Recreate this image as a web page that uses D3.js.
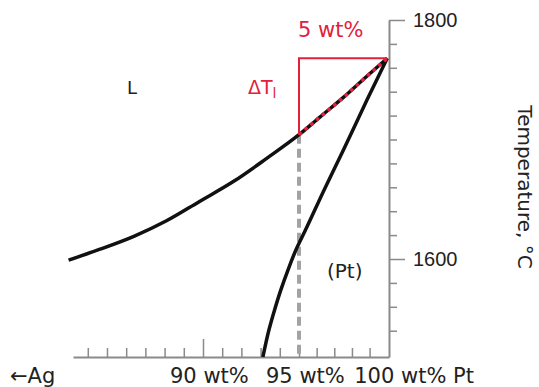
<!DOCTYPE html>
<html>
<head>
<meta charset="utf-8">
<script src="https://cdn.jsdelivr.net/npm/d3@7"></script>
<style>
  body { margin: 0; background: #fff; }
  svg { display: block; font-family: "DejaVu Sans", Verdana, sans-serif; }
</style>
</head>
<body>
<div id="chart"></div>
<script>
// phase diagram, Ag-Pt near the Pt end
const width = 539
const height = 387
const red = "#e2213d"
const axisGrey = "#8a8a8a"

// liquidus and solidus (wt% Pt, deg C)
const liquidusWt = [83.0, 84.6, 86.4, 88.1, 89.8, 91.6, 93.3, 95.0, 96.2, 97.5, 98.7, 100]
const liquidusT = [1599, 1608, 1619, 1632, 1648, 1665, 1684, 1704, 1719, 1735, 1751, 1768]
const solidusWt = [100, 98.85, 97.51, 96.43, 95.36, 94.85, 94.43, 94.05, 93.72, 93.44, 93.12]
const solidusT = [1768, 1733, 1691, 1658, 1624, 1608, 1591, 1574, 1557, 1541, 1518]

// composition of the dashed line and the triangle
const alloyWt = 95
const pureWt = 100
const meltT = 1768
const alloyLiquidusT = 1704

// ticks
const tempMajorTicks = [1600, 1800]
const tempMinorTicks = [1540, 1560, 1580, 1620, 1640, 1660, 1680, 1700, 1720, 1740, 1760, 1780]
const wtMajorTicks = [90]
const wtMinorTicks = [84, 85, 86, 87, 88, 89, 91, 92, 93, 94, 95, 96, 97, 98, 99]
const wtLabels = ["90 wt%", "95 wt%", "100 wt% Pt"]
const wtLabelValues = [90, 95, 100]

const svg = d3.select('#chart')
  .append('svg')
  .attr('width', width)
  .attr('height', height)

// the drawing is not quite linear, so the scale is in two pieces
const x = d3.scaleLinear()
  .domain([83.23, 95, 100.1])
  .range([73, 299, 389])

const y = d3.scaleLinear()
  .domain([1518, 1800])
  .range([357, 20])

const liquidusLine = d3.line()
  .x(d => x(d[0]))
  .y(d => y(d[1]))
  .curve(d3.curveMonotoneX)

const solidusLine = d3.line()
  .x(d => x(d[0]))
  .y(d => y(d[1]))
  .curve(d3.curveMonotoneY)

const liquidus = liquidusWt.map((w, i) => [w, liquidusT[i]])
const solidus = solidusWt.map((w, i) => [w, solidusT[i]])

//axes
const styleAxis = function (g) {
  g.select('.domain').attr('stroke', axisGrey).attr('stroke-width', 2)
  g.selectAll('.tick line').attr('stroke', axisGrey).attr('stroke-width', 1.5)
  g.selectAll('.tick text').attr('fill', '#222').style('font-size', '20px')
    .attr('font-family', null)
}

svg.append('g')
  .attr('transform', 'translate(0,' + y(1518) + ')')
  .call(d3.axisTop(x).tickValues(wtMinorTicks).tickSize(9).tickSizeOuter(0).tickFormat(''))
  .call(styleAxis)
svg.append('g')
  .attr('transform', 'translate(0,' + y(1518) + ')')
  .call(d3.axisTop(x).tickValues(wtMajorTicks).tickSize(18).tickFormat(''))
  .call(g => g.select('.domain').remove())
  .call(styleAxis)

svg.append('g')
  .attr('transform', 'translate(' + x(100.1) + ',0)')
  .call(d3.axisRight(y).tickValues(tempMinorTicks).tickSize(8).tickSizeOuter(0).tickFormat(''))
  .call(styleAxis)
svg.append('g')
  .attr('transform', 'translate(' + x(100.1) + ',0)')
  .call(d3.axisRight(y).tickValues(tempMajorTicks).tickSize(16).tickPadding(8).tickFormat(d3.format('d')))
  .call(g => g.select('.domain').remove())
  .call(styleAxis)

// dashed composition line
svg.append('line')
  .attr('x1', x(alloyWt)).attr('x2', x(alloyWt))
  .attr('y1', y(alloyLiquidusT)).attr('y2', y(1518))
  .attr('stroke', '#a3a3a3')
  .attr('stroke-width', 4)
  .attr('stroke-dasharray', '9 5')

// curves
svg.append('path').datum(liquidus)
  .attr('d', liquidusLine).attr('fill', 'none').attr('stroke', '#111').attr('stroke-width', 3.5)
svg.append('path').datum(solidus)
  .attr('d', solidusLine).attr('fill', 'none').attr('stroke', '#111').attr('stroke-width', 3.5)

// red triangle
svg.append('path')
  .attr('d', 'M' + x(alloyWt) + ',' + y(alloyLiquidusT) + 'V' + y(meltT) + 'H' + x(pureWt))
  .attr('fill', 'none').attr('stroke', red).attr('stroke-width', 2)

svg.append('path').datum(liquidus.filter(d => d[0] >= alloyWt))
  .attr('d', liquidusLine).attr('fill', 'none').attr('stroke', red)
  .attr('stroke-width', 3.5).attr('stroke-dasharray', '3.5 4')

// labels
svg.append('text').attr('x', x(alloyWt) - 1).attr('y', 37)
  .attr('fill', red).style('font-size', '21px').text('5 wt%')

const dT = svg.append('text').attr('x', 248).attr('y', 94)
  .attr('fill', red).style('font-size', '19px')
dT.append('tspan').text('ΔT')
dT.append('tspan').attr('dy', 4).style('font-size', '14px').text('l')

svg.append('text').attr('x', 127).attr('y', 94)
  .attr('fill', '#222').style('font-size', '18px').text('L')

svg.append('text').attr('x', 327).attr('y', 278)
  .attr('fill', '#222').style('font-size', '20px').text('(Pt)')

svg.append('text').attr('x', 10).attr('y', 383)
  .attr('fill', '#222').style('font-size', '21px').text('←Ag')

svg.selectAll('.wtlabel')
  .data(wtLabels)
  .enter()
  .append('text')
  .attr('class', 'wtlabel')
  .attr('x', (d, i) => x(wtLabelValues[i]) - 33)
  .attr('y', 383)
  .attr('fill', '#222')
  .style('font-size', '21px')
  .text(d => d)

svg.append('text')
  .attr('transform', 'translate(518,187) rotate(90)')
  .attr('text-anchor', 'middle')
  .attr('fill', '#222')
  .style('font-size', '20px')
  .text('Temperature, °C')
</script>
</body>
</html>
